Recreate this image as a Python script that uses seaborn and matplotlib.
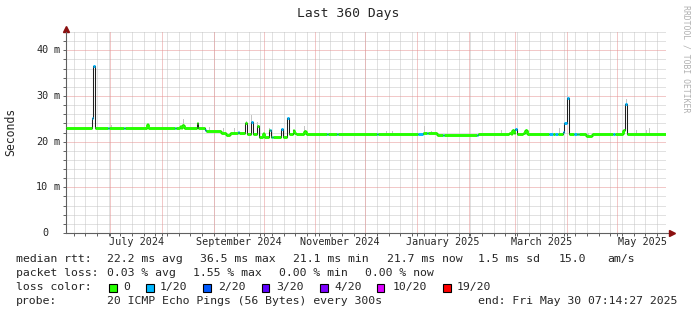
import numpy as np
import pandas as pd
import matplotlib
matplotlib.use("Agg")
import matplotlib.pyplot as plt
import matplotlib.dates as mdates
from matplotlib.ticker import MultipleLocator, FixedLocator
from matplotlib.collections import LineCollection
from matplotlib.patches import Rectangle
from matplotlib.transforms import blended_transform_factory
import seaborn as sns
from datetime import datetime, timedelta

# ---------------- data ----------------
end_time = datetime(2025, 5, 30, 7, 14, 27)
span_days = 360

# step series: days since start, median rtt (ms), lost pings out of 20
day = [0.0, 15.7, 16.4, 17.8, 25.3, 25.9, 35.1, 35.7, 48.8, 49.6,
       65.5, 66.1, 68.8, 69.4, 70.0, 70.8, 78.9, 79.5, 83.6, 84.2,
       93.1, 96.1, 98.5, 103.3, 103.9, 107.5, 108.6, 110.9, 112.1, 114.9,
       115.9, 118.1, 118.7, 121.7, 122.3, 122.9, 123.5, 124.1, 129.1, 130.1,
       132.9, 133.7, 136.1, 136.7, 138.1, 143.1, 143.9, 156.5, 157.1, 162.5,
       163.1, 186.5, 187.1, 211.3, 214.3, 216.5, 217.1, 222.5, 226.1, 226.7,
       246.5, 247.1, 265.9, 267.1, 267.7, 268.9, 269.5, 270.7, 274.3, 275.5,
       276.7, 290.1, 292.1, 293.5, 295.5, 298.1, 299.0, 300.5, 301.9, 305.1,
       306.9, 307.5, 308.1, 312.1, 315.5, 328.5, 329.5, 334.1, 335.3, 336.9,
       360.0]
median_ms = [23.0, 25.1, 36.5, 23.0, 23.0, 23.0, 23.0, 23.0, 23.9, 23.0,
             23.0, 23.0, 23.5, 23.0, 23.6, 23.0, 24.0, 23.0, 22.5, 22.3,
             21.8, 21.5, 21.8, 22.2, 21.8, 24.0, 21.7, 24.2, 21.6, 23.4,
             21.1, 21.9, 21.1, 22.6, 22.6, 21.1, 21.1, 21.1, 22.7, 21.1,
             25.2, 21.6, 22.6, 21.8, 21.7, 22.4, 21.7, 21.7, 21.7, 21.7,
             21.7, 21.7, 21.7, 21.7, 21.8, 21.8, 21.8, 21.5, 21.5, 21.5,
             21.5, 21.7, 22.0, 21.6, 22.5, 22.0, 22.7, 21.7, 22.0, 22.5,
             21.7, 21.7, 21.7, 21.7, 21.7, 22.2, 24.1, 29.5, 21.7, 21.7,
             21.7, 21.7, 21.7, 21.3, 21.7, 21.7, 21.7, 22.5, 28.3, 21.7,
             21.7]
loss = [0, 1, 1, 0, 1, 0, 1, 0, 0, 0,
        1, 0, 0, 0, 0, 0, 0, 0, 1, 0,
        0, 0, 0, 1, 0, 0, 0, 1, 0, 0,
        0, 0, 0, 0, 1, 0, 1, 0, 1, 0,
        1, 0, 0, 0, 0, 0, 0, 1, 0, 1,
        0, 1, 0, 1, 0, 1, 0, 0, 1, 0,
        1, 0, 0, 0, 0, 0, 1, 0, 0, 0,
        0, 1, 0, 1, 0, 1, 1, 1, 0, 1,
        0, 1, 0, 0, 0, 1, 0, 0, 1, 0,
        0]

# smoke (spread of pings) tops
smoke_day = [27.5, 70.9, 86.5, 94.9, 101.5, 108.5, 111.5, 115.3, 122.5, 143.5,
             192.5, 196.3, 215.5, 219.5, 261.5, 296.5, 300.9, 313.9, 336.5,
             342.5, 348.5, 350.5]
smoke_top_ms = [23.6, 24.9, 23.3, 22.9, 22.9, 24.6, 25.8, 24.3, 23.1, 23.4,
                22.4, 22.3, 23.4, 22.4, 22.5, 22.9, 30.2, 22.0, 29.3,
                22.5, 22.5, 23.0]

y_ticks = [0, 10, 20, 30, 40]
y_tick_units = ["", "m", "m", "m", "m"]
x_label_months = ["2024-07", "2024-09", "2024-11", "2025-01", "2025-03", "2025-05"]

loss_levels = [0, 1, 2, 3, 4, 10, 19]
loss_colors = ["#26ff00", "#00b8ff", "#0059ff", "#5e00ff", "#7e00ff", "#dd00ff", "#ff0000"]
loss_labels = ["0", "1/20", "2/20", "3/20", "4/20", "10/20", "19/20"]

rtt_stats = [22.2, 36.5, 21.1, 21.7]
rtt_sd = 1.5
rtt_am_s = 15.0
loss_stats = [0.03, 1.55, 0.00, 0.00]
probe_text = "20 ICMP Echo Pings (56 Bytes) every 300s"
title = "Last 360 Days"
y_label = "Seconds"
watermark = "RRDTOOL / TOBI OETIKER"

# ---------------- figure ----------------
sns.set_theme(style="white")
plt.rcParams["font.family"] = ["DejaVu Sans Mono", "DejaVu Sans"]

W, H = 697, 315
fig = plt.figure(figsize=(W / 100, H / 100), dpi=100)
fig.patch.set_facecolor("white")
AX_L, AX_B, AX_W, AX_H = 65.8, 233.0, 600.0, 201.4
ax = fig.add_axes([AX_L / W, (H - AX_B) / H, AX_W / W, AX_H / H])
ax.set_facecolor("white")

def fx(x):
    return x / W

def fy(y):
    return 1 - y / H

start_time = end_time - timedelta(days=span_days)
t0 = pd.Timestamp(start_time)
t1 = pd.Timestamp(end_time)
times = t0 + pd.to_timedelta(day, unit="D")
df = pd.DataFrame({"time": times, "median_ms": median_ms, "loss": loss})
xnum = mdates.date2num(df["time"].dt.to_pydatetime())

# ---- grid (dotted lines, rrdtool style) ----
YMAX = 44.1
GRID_MINOR = "#c4c4c4"
GRID_MAJOR = "#e69393"
dots = (0, (1, 1))
GLW = 0.72
month_starts = pd.date_range(t0.normalize(), t1, freq="MS")
month_starts = month_starts[month_starts > t0]
week_starts = pd.date_range(t0.normalize(), t1, freq="W-SUN")
week_starts = week_starts[week_starts > t0]
m_num = mdates.date2num(month_starts.to_pydatetime())
w_num = mdates.date2num(week_starts.to_pydatetime())
for v in np.arange(2, YMAX, 2):
    if v % 10:
        ax.axhline(v, color=GRID_MINOR, ls=dots, lw=GLW, zorder=0.5)
for v in w_num:
    ax.axvline(v, color=GRID_MINOR, ls=dots, lw=GLW, zorder=0.5)
for v in [10, 20, 30, 40]:
    ax.axhline(v, color=GRID_MAJOR, ls=dots, lw=GLW, zorder=0.6)
for v in m_num:
    ax.axvline(v, color=GRID_MAJOR, ls=dots, lw=GLW, zorder=0.6)

# smoke bars
s_times = t0 + pd.to_timedelta(smoke_day, unit="D")
s_num = mdates.date2num(s_times.to_pydatetime())
idx = np.searchsorted(xnum, s_num, side="right") - 1
base = np.array(median_ms)[idx]
ax.bar(s_num, np.array(smoke_top_ms) - base, bottom=base, width=0.6,
       color="#c4c4c4", linewidth=0, zorder=2)

# dark median step line
sns.lineplot(data=df, x="time", y="median_ms", drawstyle="steps-post",
             color="#202020", lw=0.75, ax=ax, estimator=None, zorder=3)

# thick loss-coloured median segments
cmap = dict(zip(loss_levels, loss_colors))
segs, cols = [], []
for i in range(len(xnum) - 1):
    c = cmap[loss[i]]
    segs.append([(xnum[i], median_ms[i]), (xnum[i + 1], median_ms[i])])
    cols.append(c)
    if loss[i] == loss[i + 1] and abs(median_ms[i + 1] - median_ms[i]) < 1.0 \
            and median_ms[i + 1] != median_ms[i]:
        segs.append([(xnum[i + 1], median_ms[i]), (xnum[i + 1], median_ms[i + 1])])
        cols.append(c)
lc = LineCollection(segs, colors=cols, linewidths=2.1, capstyle="butt", zorder=4)
ax.add_collection(lc)

ax.set_xlim(mdates.date2num(start_time), mdates.date2num(end_time))
ax.set_ylim(0, YMAX)
ax.set_xlabel("")
ax.set_ylabel("")
ax.grid(False)

# tick marks
ax.yaxis.set_major_locator(MultipleLocator(10))
ax.yaxis.set_minor_locator(MultipleLocator(2))
ax.xaxis.set_major_locator(FixedLocator(m_num))
ax.xaxis.set_minor_locator(FixedLocator(w_num))
ax.tick_params(which="both", labelleft=False, labelbottom=False, left=True, bottom=True,
               direction="out", length=2, width=0.7, color="#606060")

for s in ["top", "right"]:
    ax.spines[s].set_visible(False)
for s in ["left", "bottom"]:
    ax.spines[s].set_color("#606060")
    ax.spines[s].set_linewidth(0.8)

# axis arrows
ax.plot([0, 0], [1, 1.01], color="#606060", lw=0.8, transform=ax.transAxes, clip_on=False)
ax.plot([1, 1.008], [0, 0], color="#606060", lw=0.8, transform=ax.transAxes, clip_on=False)
ax.plot([0], [1.011], marker="^", ms=4.5, color="#8b1010", mec="#8b1010",
        transform=ax.transAxes, clip_on=False)
ax.plot([1.0098], [0], marker=">", ms=4.5, color="#8b1010", mec="#8b1010",
        transform=ax.transAxes, clip_on=False)

# y tick labels: number column + unit column
ytr = blended_transform_factory(fig.transFigure, ax.transData)
for v, u in zip(y_ticks, y_tick_units):
    ax.text(fx(48.5), v, f"{v}", transform=ytr, ha="right", va="center", fontsize=7.3)
    if u:
        ax.text(fx(53.5), v, u, transform=ytr, ha="left", va="center", fontsize=7.3)

# x month labels centred mid-month
xtr = ax.get_xaxis_transform()
for m in x_label_months:
    ms_ = pd.Timestamp(m + "-01")
    me_ = ms_ + pd.offsets.MonthBegin(1)
    mid = ms_ + (me_ - ms_) / 2
    ax.text(mdates.date2num(mid.to_pydatetime()), -(242.3 - AX_B) / AX_H,
            ms_.strftime("%B %Y"), transform=xtr, ha="center", va="center", fontsize=7.3)

# titles
fig.text(fx(348), fy(14), title, ha="center", va="center", fontsize=9.4)
fig.text(fx(11), fy(132), y_label, rotation=90, ha="center", va="center", fontsize=8.3)
fig.text(fx(686), fy(5), watermark, rotation=270, ha="center", va="top",
         fontsize=5.9, color="#b0b0b0")

# legend
LF = 8.25
r1 = 259.3
items1 = [(16, "median rtt:"),
          (107.3, f"{rtt_stats[0]:.1f} ms avg"),
          (200, f"{rtt_stats[1]:.1f} ms max"),
          (293.3, f"{rtt_stats[2]:.1f} ms min"),
          (386.7, f"{rtt_stats[3]:.1f} ms now"),
          (478.3, f"{rtt_sd:.1f} ms sd"),
          (558.3, f"{rtt_am_s:.1f}"),
          (607.7, "am/s")]
for x, t in items1:
    fig.text(fx(x), fy(r1), t, ha="left", va="center", fontsize=LF)
r2 = 273.3
items2 = [(16, "packet loss:"),
          (107.3, f"{loss_stats[0]:.2f} % avg"),
          (193.3, f"{loss_stats[1]:.2f} % max"),
          (279.3, f"{loss_stats[2]:.2f} % min"),
          (365, f"{loss_stats[3]:.2f} % now")]
for x, t in items2:
    fig.text(fx(x), fy(r2), t, ha="left", va="center", fontsize=LF)
r3 = 286.7
fig.text(fx(16), fy(r3), "loss color:", ha="left", va="center", fontsize=LF)
box_x = [109, 146, 203.3, 261.7, 320, 376.7, 443.3]
lab_x = [123.3, 160, 218, 276.7, 334, 392.7, 456.7]
for bx, lx, c, lab in zip(box_x, lab_x, loss_colors, loss_labels):
    fig.patches.append(Rectangle((fx(bx), fy(291.5)), 7.5 / W, 8 / H, transform=fig.transFigure,
                                 facecolor=c, edgecolor="black", lw=0.8))
    fig.text(fx(lx), fy(r3), lab, ha="left", va="center", fontsize=LF)
r4 = 301
fig.text(fx(16), fy(r4), "probe:", ha="left", va="center", fontsize=LF)
fig.text(fx(107.3), fy(r4), probe_text, ha="left", va="center", fontsize=LF)
fig.text(fx(478.3), fy(r4), "end: " + end_time.strftime("%a %b %d %H:%M:%S %Y"),
         ha="left", va="center", fontsize=LF)

fig.savefig("out.png", dpi=100, facecolor="white")
